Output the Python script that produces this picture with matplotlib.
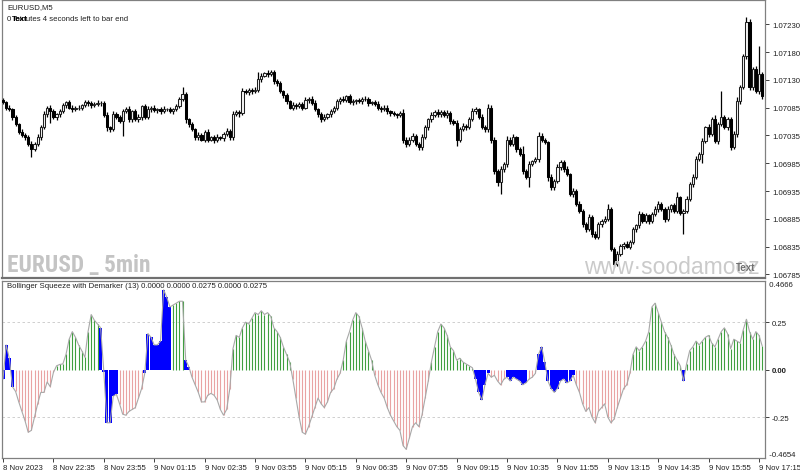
import numpy as np
import matplotlib
matplotlib.use("Agg")
import matplotlib.pyplot as plt
from matplotlib import font_manager as fm
from matplotlib.transforms import blended_transform_factory

# ---------------- data ----------------
first_open = 1.07095
close = [
1.07091,1.07082,1.07079,1.07065,1.07052,1.07038,1.07033,1.07029,1.07017,1.07008,
1.07017,1.07029,1.07047,1.07070,1.07082,1.07075,1.07065,1.07070,1.07075,1.07086,
1.07091,1.07082,1.07079,1.07081,1.07082,1.07086,1.07091,1.07090,1.07086,1.07088,
1.07090,1.07090,1.07068,1.07047,1.07043,1.07070,1.07066,1.07058,1.07075,1.07079,
1.07061,1.07075,1.07061,1.07065,1.07084,1.07065,1.07079,1.07082,1.07077,1.07079,
1.07075,1.07079,1.07079,1.07075,1.07079,1.07084,1.07097,1.07106,1.07061,1.07052,
1.07043,1.07029,1.07033,1.07025,1.07038,1.07025,1.07029,1.07024,1.07029,1.07027,
1.07034,1.07040,1.07029,1.07070,1.07074,1.07072,1.07111,1.07109,1.07113,1.07111,
1.07114,1.07132,1.07139,1.07143,1.07141,1.07145,1.07129,1.07125,1.07111,1.07104,
1.07093,1.07082,1.07086,1.07084,1.07088,1.07082,1.07095,1.07098,1.07090,1.07079,
1.07070,1.07061,1.07066,1.07070,1.07075,1.07082,1.07093,1.07097,1.07095,1.07102,
1.07091,1.07093,1.07095,1.07093,1.07098,1.07097,1.07090,1.07091,1.07088,1.07082,
1.07079,1.07082,1.07075,1.07072,1.07070,1.07068,1.07072,1.07025,1.07017,1.07025,
1.07031,1.07017,1.07011,1.07029,1.07047,1.07061,1.07068,1.07074,1.07070,1.07074,
1.07068,1.07072,1.07058,1.07054,1.07025,1.07043,1.07050,1.07047,1.07061,1.07075,
1.07079,1.07065,1.07047,1.07043,1.07082,1.07025,1.06969,1.06949,1.06972,1.06981,
1.07025,1.07017,1.07029,1.07008,1.06999,1.06969,1.06958,1.06981,1.06986,1.06990,
1.07031,1.07024,1.07020,1.06958,1.06940,1.06951,1.06976,1.06985,1.06972,1.06963,
1.06928,1.06933,1.06910,1.06898,1.06874,1.06865,1.06887,1.06857,1.06851,1.06874,
1.06880,1.06883,1.06901,1.06830,1.06803,1.06821,1.06835,1.06839,1.06834,1.06842,
1.06865,1.06872,1.06892,1.06880,1.06890,1.06880,1.06892,1.06901,1.06910,1.06901,
1.06883,1.06901,1.06908,1.06898,1.06922,1.06894,1.06898,1.06919,1.06946,1.06958,
1.06990,1.06999,1.07022,1.07047,1.07034,1.07061,1.07022,1.07052,1.07065,1.07047,
1.07061,1.07011,1.07034,1.07093,1.07118,1.07173,1.07235,1.07118,1.07150,1.07111,
1.07141,1.07102]

# wick lengths above / below the body, in points (0.00001)
wick_hi = [
4,3,5,2,4,3,5,3,4,6, 3,5,4,6,3,5,4,3,5,4, 3,4,5,3,4,3,5,4,3,4,
5,3,4,6,3,5,4,3,5,4, 6,3,4,5,3,4,5,3,4,3, 4,5,3,4,3,5,4,12,4,3,
4,3,5,3,4,6,3,4,5,3, 4,5,3,6,4,3,5,4,3,4, 5,13,4,3,5,4,3,4,5,3,
4,3,5,4,3,4,6,3,4,5, 3,4,5,3,4,3,5,4,6,3, 4,5,3,4,3,5,4,3,4,5,
3,4,5,3,4,3,4,8,4,5, 6,4,3,5,4,3,6,4,5,3, 4,5,3,4,6,4,5,3,4,6,
4,3,5,4,6,5,4,3,5,4, 6,4,5,3,4,14,4,5,3,4, 7,5,4,3,5,4,6,3,4,5,
3,6,4,5,3,4,6,3,5,4, 3,5,9,3,4,5,4,3,6,4, 5,3,6,4,5,3,4,6,5,3,
4,5,3,4,9,3,4,5,4,6, 5,4,6,3,5,4,8,5,46,4, 5,4,6,7,4,5,9,4,5,6,
50,4]
wick_lo = [
3,4,3,5,3,4,3,5,4,14, 4,3,5,3,4,20,3,5,4,3, 4,3,5,4,3,4,3,5,4,3,
4,5,3,6,4,3,5,4,27,3, 4,5,3,4,6,3,4,5,3,4, 5,3,4,3,5,4,3,4,6,4,
3,5,4,3,5,4,3,5,4,3, 4,3,5,4,3,6,4,3,5,4, 3,4,5,3,4,3,5,4,3,5,
4,3,5,4,3,4,3,5,4,3, 5,4,3,5,4,3,4,5,3,4, 3,5,4,3,4,3,5,4,3,4,
5,3,4,5,3,4,3,6,5,4, 4,3,5,4,3,5,4,3,5,4, 3,4,5,3,12,4,3,5,4,3,
5,4,3,4,5,6,5,6,21,4, 5,4,3,5,4,5,4,18,4,3, 5,4,3,6,5,4,3,5,4,3,
4,5,3,4,5,4,3,5,4,3, 5,4,3,4,5,3,4,5,3,4, 3,4,5,3,4,5,3,4,5,3,
4,3,5,4,3,4,37,3,4,5, 4,3,15,4,5,3,4,5,3,4, 5,4,3,4,5,3,4,5,4,3,
4,5]

# Bollinger Squeeze with Demarker histogram
hist = [
-0.05,0.13,0.06,-0.09,-0.115,-0.17,-0.22,-0.27,-0.33,-0.32,
-0.25,-0.18,-0.12,-0.12,-0.065,-0.09,-0.015,0.02,0.027,0.03,
0.08,0.16,0.2,0.17,0.13,0.1,0.065,0.2,0.29,0.26,
0.24,0.22,-0.01,-0.28,-0.28,-0.14,-0.13,-0.18,-0.235,-0.24,
-0.22,-0.21,-0.2,-0.15,-0.1,-0.02,0.19,0.17,0.13,0.13,
0.15,0.42,0.38,0.33,0.34,0.35,0.36,0.36,0.05,0.015,
-0.04,-0.08,-0.12,-0.17,-0.17,-0.135,-0.125,-0.135,-0.16,-0.21,
-0.24,-0.21,-0.1,0.11,0.18,0.17,0.22,0.25,0.24,0.27,
0.3,0.29,0.31,0.29,0.3,0.28,0.22,0.2,0.17,0.12,
0.08,0.04,-0.05,-0.15,-0.25,-0.33,-0.34,-0.3,-0.25,-0.2,
-0.15,-0.18,-0.2,-0.17,-0.12,-0.1,-0.05,-0.02,0.05,0.15,
0.2,0.26,0.3,0.28,0.22,0.15,0.1,0.05,-0.03,-0.08,
-0.12,-0.15,-0.2,-0.24,-0.27,-0.3,-0.32,-0.4,-0.42,-0.36,
-0.3,-0.28,-0.3,-0.24,-0.15,-0.06,0.04,0.12,0.2,0.24,
0.22,0.18,0.12,0.1,0.05,0.06,0.04,0.03,0.02,0.01,
-0.05,-0.12,-0.16,-0.08,-0.02,-0.04,-0.03,-0.06,-0.08,-0.05,
-0.04,-0.06,-0.04,-0.05,-0.06,-0.08,-0.07,-0.05,-0.04,-0.02,
0.08,0.12,0.04,-0.06,-0.1,-0.12,-0.1,-0.06,-0.05,-0.07,
-0.06,-0.03,-0.08,-0.12,-0.18,-0.22,-0.2,-0.25,-0.28,-0.22,
-0.2,-0.18,-0.25,-0.28,-0.26,-0.2,-0.15,-0.1,-0.08,-0.02,
0.08,0.12,0.1,0.12,0.15,0.2,0.33,0.35,0.3,0.25,
0.2,0.17,0.13,0.08,0.05,0.02,-0.06,0.03,0.1,0.12,
0.15,0.13,0.15,0.17,0.18,0.14,0.12,0.16,0.2,0.22,
0.19,0.11,0.16,0.15,0.14,0.21,0.265,0.2,0.16,0.2,
0.18,0.125]
squeeze = [
1,1,1,1,0,0,0,0,0,0, 0,0,0,0,0,0,0,0,0,0, 0,0,0,0,0,0,0,0,0,0,
0,1,1,1,1,1,1,0,0,0, 0,0,0,0,0,1,1,1,1,1, 1,1,1,1,0,0,0,0,1,1,
0,0,0,0,0,0,0,0,0,0, 0,0,0,0,0,0,0,0,0,0, 0,0,0,0,0,0,0,0,0,0,
0,0,0,0,0,0,0,0,0,0, 0,0,0,0,0,0,0,0,0,0, 0,0,0,0,0,0,0,0,0,0,
0,0,0,0,0,0,0,0,0,0, 0,0,0,0,0,0,0,0,0,0, 0,0,0,0,0,0,0,0,0,0,
1,1,1,1,1,0,0,0,0,0, 1,1,1,1,1,1,1,0,0,0, 1,1,1,1,1,1,1,1,1,1,
1,1,0,0,0,0,0,0,0,0, 0,0,0,0,0,0,0,0,0,0, 0,0,0,0,0,0,0,0,0,0,
0,0,0,0,0,0,1,0,0,0, 0,0,0,0,0,0,0,0,0,0, 0,0,0,0,0,0,0,0,0,0,
0,0]

price_ticks = ["1.07230", "1.07180", "1.07130", "1.07085", "1.07035",
               "1.06985", "1.06935", "1.06885", "1.06835", "1.06785"]
time_labels = ["8 Nov 2023", "8 Nov 22:35", "8 Nov 23:55", "9 Nov 01:15",
               "9 Nov 02:35", "9 Nov 03:55", "9 Nov 05:15", "9 Nov 06:35",
               "9 Nov 07:55", "9 Nov 09:15", "9 Nov 10:35", "9 Nov 11:55",
               "9 Nov 13:15", "9 Nov 14:35", "9 Nov 15:55", "9 Nov 17:15"]
ind_ticks = [0.25, 0.0, -0.25]
ind_tick_labels = ["0.25", "0.00", "-0.25"]
ind_max, ind_min = 0.4666, -0.4654

# ---------------- figure ----------------
plt.rcParams["font.family"] = ["Liberation Sans", "DejaVu Sans"]
W, H = 800, 477
fig = plt.figure(figsize=(W / 100, H / 100), dpi=100)
fig.patch.set_facecolor("white")


def rect(l, t, r, b):
    return [l / W, 1 - b / H, (r - l) / W, (b - t) / H]


ax = fig.add_axes(rect(2, 0.5, 765, 279))
axi = fig.add_axes(rect(2, 282, 765, 459), sharex=ax)

c = np.array(close)
n = len(c)
x = np.arange(n)
o = np.r_[first_open, c[:-1]]
hi = np.maximum(o, c) + np.array(wick_hi) * 1e-5
lo = np.minimum(o, c) - np.array(wick_lo) * 1e-5
up = c >= o
body = np.maximum(np.abs(c - o), 0.4e-5)
bot = np.minimum(o, c)

ax.vlines(x, lo, hi, color="black", lw=0.9, zorder=2)
ax.bar(x[up], body[up], bottom=bot[up], width=0.7, color="#f4f4f4",
       edgecolor="#202020", linewidth=0.75, zorder=3)
ax.bar(x[~up], body[~up], bottom=bot[~up], width=0.7, color="black",
       edgecolor="black", linewidth=0.75, zorder=3)

y_top = 1.07230 + 25 * 0.00001778
y_bot = 1.07230 - 254 * 0.00001778
ax.set_ylim(y_bot, y_top)
ax.set_xlim(-0.32, 241.9)

tick_vals = np.linspace(1.07230, 1.06785, len(price_ticks))
ax.yaxis.tick_right()
ax.set_yticks(tick_vals)
ax.set_yticklabels(price_ticks)
ax.tick_params(axis="y", labelsize=5.6, length=3, width=0.6, pad=2,
               colors="#202020")
ax.tick_params(axis="x", bottom=False, labelbottom=False)

# indicator
h = np.array(hist)
sq = np.array(squeeze, bool)
pos = (h >= 0) & ~sq
neg = (h < 0) & ~sq
axi.vlines(x[pos], 0, h[pos], color="#3f9f3f", lw=0.8, zorder=2)
axi.vlines(x[neg], 0, h[neg], color="#e9a3a3", lw=0.8, zorder=2)
axi.bar(x[sq], h[sq], width=0.95, color="#0000ff", linewidth=0, zorder=2)
axi.plot(x, h, color="#a8a8a8", lw=0.8, zorder=3)
for lev in (0.25, -0.25):
    axi.axhline(lev, color="#c8c8c8", lw=0.6, dashes=(3, 3), zorder=1)
axi.set_ylim(ind_min, ind_max)
axi.yaxis.tick_right()
axi.set_yticks(ind_ticks)
axi.set_yticklabels(ind_tick_labels)
axi.tick_params(axis="y", labelsize=5.6, length=3, width=0.6, pad=2,
                colors="#202020")
for lbl in axi.get_yticklabels():
    if lbl.get_text() == "0.00":
        lbl.set_fontweight("bold")
tr = blended_transform_factory(axi.transAxes, axi.transData)
axi.text(1.0, ind_max, "  0.4666", transform=tr, fontsize=5.6, va="top",
         ha="left", color="#202020")
axi.text(1.0, ind_min, "  -0.4654", transform=tr, fontsize=5.6, va="bottom",
         ha="left", color="#202020")

axi.set_xticks(np.arange(0, 16 * len(time_labels), 16))
axi.set_xticklabels(time_labels)
axi.tick_params(axis="x", labelsize=5.6, length=3, width=0.6, pad=1.5,
                colors="#202020")
for lbl in axi.get_xticklabels():
    lbl.set_ha("left")

for a in (ax, axi):
    for s in a.spines.values():
        s.set_color("#808080")
        s.set_linewidth(0.9)
    a.set_facecolor("white")
ax.spines["bottom"].set_linewidth(1.6)
ax.spines["bottom"].set_color("#707070")

# texts
ax.text(5 / 763, 1 - 7 / 279, "EURUSD,M5", transform=ax.transAxes,
        fontsize=5.6, va="center", ha="left", color="#202020")
ax.text(5 / 763, 1 - 19 / 279, "0 minutes 4 seconds left to bar end",
        transform=ax.transAxes, fontsize=5.6, va="center", ha="left",
        color="#202020")
ax.text(10 / 763, 1 - 19.5 / 279, "Text", transform=ax.transAxes,
        fontsize=5.8, va="center", ha="left", color="black",
        fontweight="bold")

# watermark: pick a narrow bold face if one is installed, then fit the width
wm_family = "Liberation Sans"
for fam in ["Liberation Sans Narrow", "Roboto Condensed",
            "DejaVu Sans Condensed", "Open Sans Condensed"]:
    try:
        fm.findfont(fm.FontProperties(family=fam, weight="bold"),
                    fallback_to_default=False)
        wm_family = fam
        break
    except Exception:
        pass
wm = ax.text(5 / 763, 1 - 272 / 279, "EURUSD _ 5min", transform=ax.transAxes,
             fontsize=17, fontweight="bold", va="baseline", ha="left",
             color="#c4c4c4", family=[wm_family, "DejaVu Sans"])
renderer = fig.canvas.get_renderer()
wpx = wm.get_window_extent(renderer).width
if wpx > 145:
    wm.set_fontsize(17 * 143 / wpx)

ax.text(582 / 763, 1 - 274 / 279, "www·soodamooz", transform=ax.transAxes,
        fontsize=16.5, va="baseline", ha="left", color="#cacaca")
ax.text(734 / 763, 1 - 268 / 279, "Text", transform=ax.transAxes,
        fontsize=7, fontweight="bold", va="center", ha="left",
        color="#707070")
axi.text(5 / 763, 1 - 5 / 177, "Bollinger Squeeze with Demarker (13) 0.0000 "
         "0.0000 0.0275 0.0000 0.0275", transform=axi.transAxes, fontsize=5.6,
         va="center", ha="left", color="#202020")

fig.savefig("out.png", dpi=100, facecolor="white")
